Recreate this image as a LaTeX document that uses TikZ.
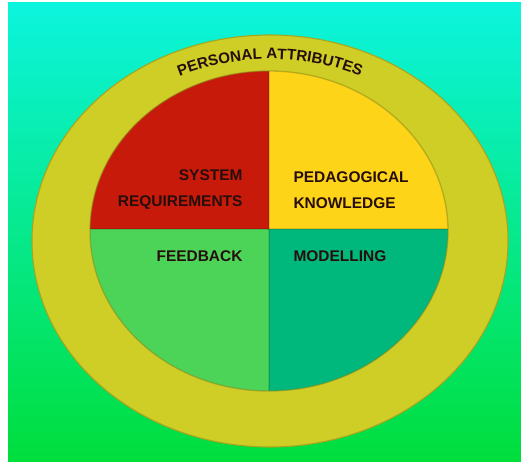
\documentclass[tikz,border=0pt]{standalone}
\usepackage{fontspec}
\setmainfont{Liberation Sans}
\usetikzlibrary{decorations.text}

\definecolor{bgtop}{RGB}{12,244,222}
\definecolor{bgmid}{RGB}{0,250,180}
\definecolor{bgbot}{RGB}{0,222,60}
\definecolor{ringyellow}{RGB}{206,206,38}
\definecolor{sysred}{RGB}{200,26,10}
\definecolor{pedyellow}{RGB}{254,212,24}
\definecolor{feedgreen}{RGB}{76,212,88}
\definecolor{modgreen}{RGB}{0,184,124}
\definecolor{labeltext}{RGB}{38,14,12}

\tikzset{every picture/.style={line width=0.75pt}}
\tikzset{
  quarterlabel/.style={inner sep=0pt, text=labeltext, font=\bfseries\fontsize{11.6}{19.5}\selectfont},
  ringedge/.style={draw=ringyellow!80!black, line width=0.8pt}
}

\begin{document}
\begin{tikzpicture}[x=0.75pt,y=0.75pt,yscale=-1,xscale=1]
\useasboundingbox (0,0) rectangle (521,463);

%Shape: Rectangle [background]
\fill[white] (0,0) rectangle (521,463);
\shade[top color=bgtop, middle color=bgmid, bottom color=bgbot] (8,3) rectangle (521,461);

%Shape: Ellipse [outer ring]
\fill[ringyellow, ringedge] (270,241) ellipse [x radius=238, y radius=206];

%Shape: Ellipse [four quarters]
\begin{scope}
\clip (269,231) ellipse [x radius=179, y radius=160];
\fill[sysred] (80,60) rectangle (269,229);
\fill[pedyellow] (269,60) rectangle (460,229);
\fill[feedgreen] (80,229) rectangle (269,400);
\fill[modgreen] (269,229) rectangle (460,400);
\draw[black, opacity=0.12, line width=1.2pt] (269,60) -- (269,400);
\draw[black, opacity=0.12, line width=1.2pt] (80,229) -- (460,229);
\end{scope}
\draw[ringyellow!65!black, opacity=0.5, line width=1pt] (269,231) ellipse [x radius=179, y radius=160];

% Text Node
\node[quarterlabel, anchor=east, align=right] (sysreq) at (243,190) {SYSTEM\\REQUIREMENTS};
% Text Node
\node[quarterlabel, anchor=west, align=left] (pedknow) at (293,190) {PEDAGOGICAL\\KNOWLEDGE};
% Text Node
\node[quarterlabel, anchor=east] (feedback) at (243,256) {FEEDBACK};
% Text Node
\node[quarterlabel, anchor=west] (modelling) at (293,256) {MODELLING};

% Text along the ring
\path[decorate, decoration={text along path, text align=center,
    text format delimiters={|}{|},
    text={|\bfseries\fontsize{11.4}{13}\selectfont\color{labeltext}|PERSONAL ATTRIBUTES}}]
  (270,241) ++(-150:212 and 182) arc[start angle=-150, end angle=-30, x radius=212, y radius=182];

\end{tikzpicture}
\end{document}
